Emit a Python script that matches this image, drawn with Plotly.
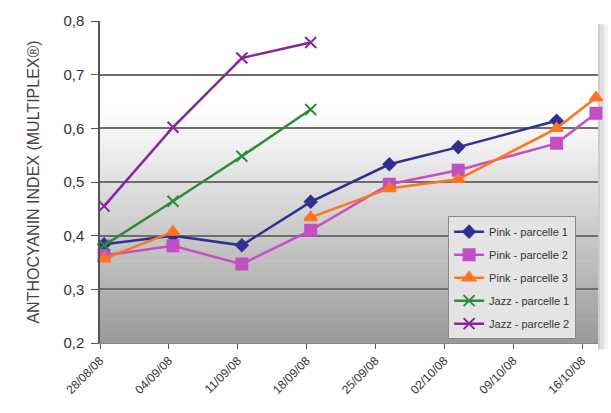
import plotly.graph_objects as go
import pandas as pd

# ---- data ----
dates = ["2008-08-28", "2008-09-04", "2008-09-11", "2008-09-18",
         "2008-09-26", "2008-10-03", "2008-10-13", "2008-10-17"]
pink1 = [0.384, 0.400, 0.382, 0.463, 0.533, 0.565, 0.614, None]
pink2 = [0.363, 0.381, 0.347, 0.410, 0.496, 0.522, 0.572, 0.628]
pink3 = [0.357, 0.407, None, 0.434, 0.488, 0.505, 0.600, 0.657]
jazz1 = [0.382, 0.464, 0.548, 0.635]
jazz2 = [0.455, 0.602, 0.731, 0.760]
tick_dates = ["2008-08-28", "2008-09-04", "2008-09-11", "2008-09-18",
              "2008-09-25", "2008-10-02", "2008-10-09", "2008-10-16"]
tick_labels = ["28/08/08", "04/09/08", "11/09/08", "18/09/08",
               "25/09/08", "02/10/08", "09/10/08", "16/10/08"]

# Excel date axis plots each day's value in the middle of the day
x = pd.to_datetime(dates) + pd.Timedelta(hours=10)

series = [
    ("Pink - parcelle 1", pink1, x, "#2e3192", "diamond", 9),
    ("Pink - parcelle 2", pink2, x, "#c44fc4", "square", 11),
    ("Pink - parcelle 3", pink3, x, "#ff7420", "triangle-up", 11),
    ("Jazz - parcelle 1", jazz1, x[:4], "#2e8b3a", "x-thin-open", 11),
    ("Jazz - parcelle 2", jazz2, x[:4], "#8a239e", "x-thin-open", 11),
]

fig = go.Figure()
for i, (name, ys, xs, col, sym, sz) in enumerate(series):
    fig.add_trace(go.Scatter(
        x=xs, y=ys, name=name, mode="lines+markers",
        connectgaps=False, legendgroup=f"g{i}", cliponaxis=False,
        line=dict(color=col, width=2.5),
        marker=dict(symbol=sym, size=sz, color=col,
                    line=dict(color=col, width=2)),
    ))

# gradient background (white top -> grey bottom)
shapes = []
n = 40
top_frac = 0.72
for k in range(n):
    y0 = top_frac * k / n
    y1 = top_frac * (k + 1) / n
    t = (k + 0.5) / n  # 0 bottom -> 1 top
    v = int(round(0x9a + (0xff - 0x9a) * t))
    shapes.append(dict(type="rect", xref="paper", yref="paper",
                       x0=0, x1=1, y0=y0, y1=y1 + 0.002, layer="below",
                       line=dict(width=0), fillcolor=f"rgb({v},{v},{v})"))
# soft shadow on the right side of plot area
for k, c in enumerate([205, 218, 232, 244]):
    shapes.append(dict(type="rect", xref="paper", yref="paper",
                       x0=1.0 + 0.005 * k, x1=1.0 + 0.005 * (k + 1),
                       y0=-0.02, y1=0.99, layer="below",
                       line=dict(width=0), fillcolor=f"rgb({c},{c},{c})"))

fig.update_layout(
    width=611, height=413,
    margin=dict(l=100, r=13, t=18, b=70),
    paper_bgcolor="white", plot_bgcolor="white",
    separators=", ",
    font=dict(family="Liberation Sans, Arial, sans-serif", color="#333333"),
    shapes=shapes,
    showlegend=True,
    legend=dict(x=0.699, y=0.394, xanchor="left", yanchor="top",
                bgcolor="#e4e4e4", bordercolor="#8a8a8a", borderwidth=1,
                font=dict(size=11, color="#333333"),
                tracegroupgap=4),
    xaxis=dict(
        type="date",
        range=["2008-08-28 00:00", "2008-10-17 15:00"],
        tickvals=tick_dates, ticktext=tick_labels,
        tickangle=-45, tickfont=dict(size=12, color="#333333"),
        ticks="outside", ticklen=5, tickcolor="#555555",
        showgrid=False, showline=True, linecolor="#888888", linewidth=1,
        zeroline=False,
    ),
    yaxis=dict(
        range=[0.2, 0.8], dtick=0.1, tick0=0.2, tickformat=".1f",
        tickfont=dict(size=15, color="#333333"),
        ticks="outside", ticklen=7, tickcolor="#555555",
        ticklabelstandoff=4,
        showgrid=True, gridcolor="#6e6e6e", gridwidth=1.5,
        showline=True, linecolor="#555555", linewidth=1.5,
        zeroline=False,
        title=dict(text="ANTHOCYANIN INDEX (MULTIPLEX®)",
                   font=dict(size=16, color="#444444"), standoff=20),
    ),
)

fig.write_html("out.html")
